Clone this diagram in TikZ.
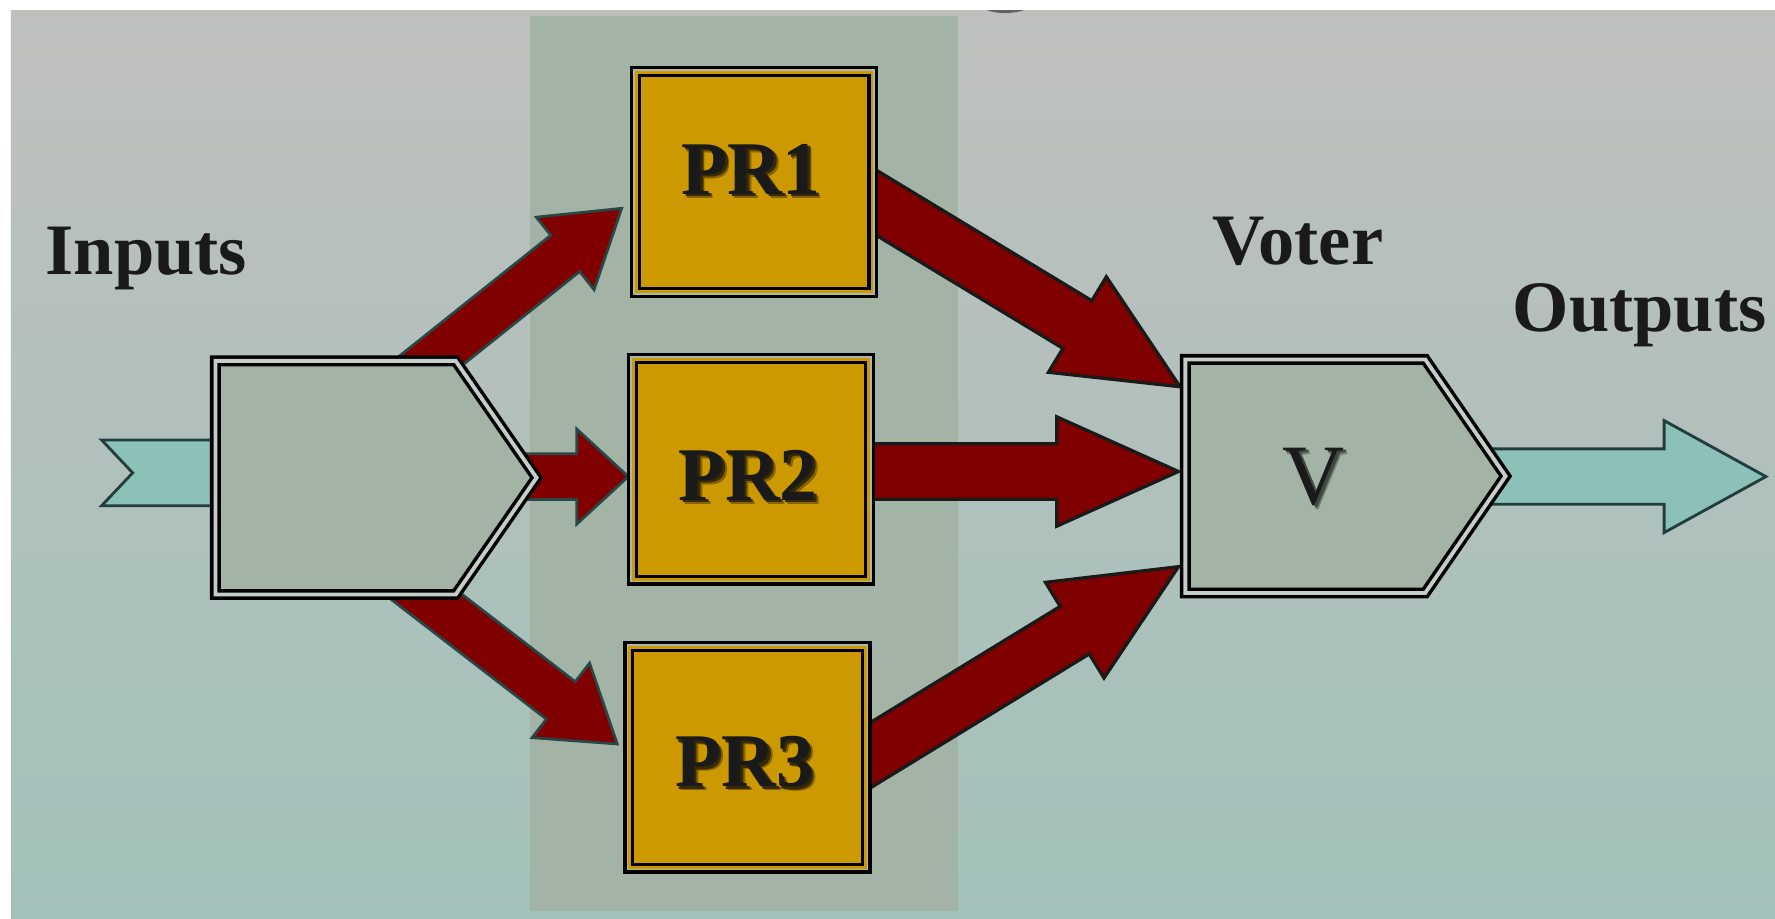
\documentclass[tikz,border=0pt]{standalone}
\usepackage{fontspec}
\setmainfont{Liberation Serif}
\usetikzlibrary{calc}

\definecolor{bgtop}{RGB}{191,192,190}
\definecolor{bgbot}{RGB}{162,193,186}
\definecolor{band}{RGB}{163,179,165}
\definecolor{boxfill}{RGB}{163,179,165}
\definecolor{gapcol}{RGB}{196,205,199}
\definecolor{gold}{RGB}{204,153,0}
\definecolor{prgap}{RGB}{172,182,172}
\definecolor{wine}{RGB}{128,0,0}
\definecolor{slate}{RGB}{40,72,72}
\definecolor{ink}{RGB}{26,26,26}
\definecolor{aqua}{RGB}{139,193,184}
\colorlet{prsoft}{black!35!gold}
\colorlet{prdark}{black!72!gold}
\colorlet{vsoft}{black!30!boxfill}
\colorlet{vdark}{black!60!boxfill}

% text with a soft drop shadow to the lower right
\newcommand\shadowed[3]{%
  \makebox[0pt][l]{\hspace*{1.9pt}\raisebox{-1.9pt}[0pt][0pt]{\textcolor{#1}{#3}}}%
  \makebox[0pt][l]{\hspace*{1.1pt}\raisebox{-1.1pt}[0pt][0pt]{\textcolor{#2}{#3}}}%
  #3}

% block arrow: style, tail, tip, shaft half-width, head half-width, head length
\newcommand\fatarrow[6]{%
  \path ($(#3)!#6!(#2)$) coordinate (fa-h);
  \draw[#1] ($(#2)!#4!90:(#3)$) -- ($(fa-h)!#4!90:(#3)$) -- ($(fa-h)!#5!90:(#3)$)
    -- (#3) -- ($(fa-h)!#5!-90:(#3)$) -- ($(fa-h)!#4!-90:(#3)$)
    -- ($(#2)!#4!-90:(#3)$) -- cycle;
}

\tikzset{
  redin/.style={fill=wine, draw=slate, line width=1.2pt},
  redout/.style={fill=wine, draw=ink, line width=1.45pt},
  tealarrow/.style={fill=aqua, draw=slate!85!black, line width=1.25pt},
  penta/.style={fill=boxfill, draw=black, line width=1.55pt, double=gapcol, double distance=1.7pt},
  prbox/.style={rectangle, minimum width=104.8pt, minimum height=97.8pt, inner sep=0pt,
    outer sep=0pt, fill=gold, draw=black, line width=1.4pt, double=gold, double distance=2.05pt},
  prgapline/.style={draw=prgap, line width=0.75pt},
  lbl/.style={inner sep=0pt, text=ink, font=\fontsize{32}{38}\selectfont\bfseries},
  prtext/.style={inner sep=0pt, text=ink, font=\fontsize{33.5}{40}\selectfont\bfseries},
  vtext/.style={inner sep=0pt, text=ink, font=\fontsize{38}{44}\selectfont},
}

\begin{document}
\begin{tikzpicture}[x=0.5pt,y=-0.5pt]
\useasboundingbox (0,0) rectangle (1568,811);
\fill[white] (0,0) rectangle (1568,811);

% backdrop
\shade[top color=bgtop, bottom color=bgbot] (9.7,9) rectangle (1568,811);
\fill[black!62] (888,1) ellipse [x radius=25, y radius=10.5];
\fill[white] (0,0) rectangle (1568,9);
\fill[band] (468,14) rectangle (846,805);

% end points of the block arrows
\coordinate (a1s) at (360,335);   \coordinate (a1t) at (549.2,184);
\coordinate (a2s) at (430,421);   \coordinate (a2t) at (555,421);
\coordinate (a3s) at (348,505);   \coordinate (a3t) at (545.3,657.2);
\coordinate (b1s) at (740,158.4); \coordinate (b1t) at (1042.4,341.6);
\coordinate (b2s) at (740,416.5); \coordinate (b2t) at (1041,416.5);
\coordinate (b3s) at (740,684.8); \coordinate (b3t) at (1041,500.6);
\coordinate (os) at (1300,421);   \coordinate (ot) at (1560,421);

% input arrow with notched tail
\draw[tealarrow] (89.8,388.7) -- (205,388.7) -- (205,446.7) -- (89.8,446.7) -- (117.2,417.7) -- cycle;

% fan-out to the processors
\fatarrow{redin}{a1s}{a1t}{10.25pt}{20.5pt}{31.95pt}
\fatarrow{redin}{a2s}{a2t}{10.1pt}{21pt}{22.75pt}
\fatarrow{redin}{a3s}{a3t}{10.45pt}{20.8pt}{31.5pt}

% processors to the voter
\fatarrow{redout}{b1s}{b1t}{12.3pt}{24.65pt}{53pt}
\fatarrow{redout}{b2s}{b2t}{12.25pt}{24.15pt}{53.75pt}
\fatarrow{redout}{b3s}{b3t}{12.3pt}{24.75pt}{53.7pt}

% output
\fatarrow{tealarrow}{os}{ot}{12.25pt}{24.75pt}{45pt}

% splitter and voter blocks
\draw[penta] (190.3,318.8) -- (402.5,318.8) -- (474,422) -- (402.5,525.2) -- (190.3,525.2) -- cycle;
\draw[penta] (1047.1,317.5) -- (1259,317.5) -- (1330,420.6) -- (1259,523.8) -- (1047.1,523.8) -- cycle;

% processor blocks
\node[prbox] (pr1) at (666.25,160.75) {};
\node[prbox] (pr2) at (663.3,414.7) {};
\node[prbox] (pr3) at (660.3,669) {};
\foreach \b in {pr1,pr2,pr3}
  \draw[prgapline] ([shift={(-1.3,-1.3)}]\b.north west) rectangle ([shift={(1.3,1.3)}]\b.south east);

\node[prtext] (pr1label) at (663.5,149.5) {\shadowed{prsoft}{prdark}{PR1}};
\node[prtext] (pr2label) at (661,419.5) {\shadowed{prsoft}{prdark}{PR2}};
\node[prtext] (pr3label) at (658,673) {\shadowed{prsoft}{prdark}{PR3}};
\node[vtext] (vlabel) at (1160.5,421) {\shadowed{vsoft}{vdark}{V}};

% captions
\node[lbl, anchor=base west] (inputs) at (40,242.3) {Inputs};
\node[lbl, anchor=base west] (voter) at (1071,233.8) {Voter};
\node[lbl, anchor=base west] (outputs) at (1336,292.4) {Outputs};
\end{tikzpicture}
\end{document}
